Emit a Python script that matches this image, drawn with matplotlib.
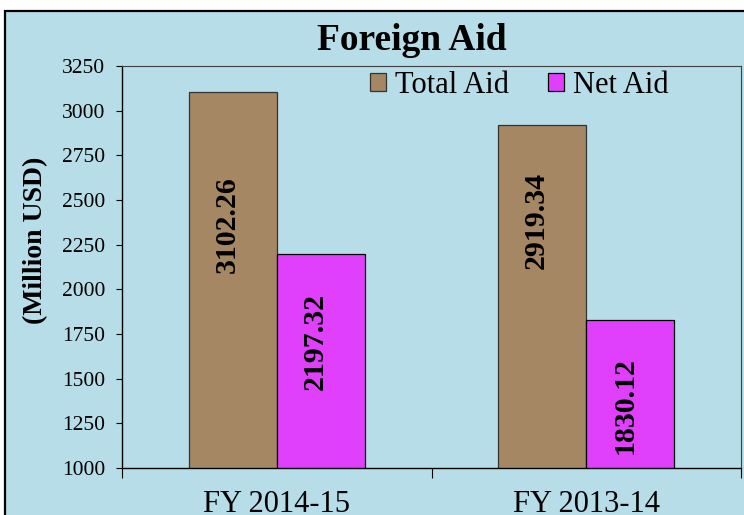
import numpy as np
import matplotlib
matplotlib.use("Agg")
import matplotlib.pyplot as plt
from matplotlib.patches import Rectangle

plt.rcParams['font.family'] = ['Liberation Serif', 'DejaVu Serif']

# data
years = ['FY 2014-15', 'FY 2013-14']
total_aid = [3102.26, 2919.34]
net_aid = [2197.32, 1830.12]
y_ticks = [1000, 1250, 1500, 1750, 2000, 2250, 2500, 2750, 3000, 3250]

# styling
bg = '#B7DDE8'
c_total = '#A58764'
c_net = '#E040FB'
bar_w = 0.284
# how far (points) below each bar's top the rotated label sits
drop_total = [95, 69]
drop_net = [63, 62]

fig = plt.figure(figsize=(7.44, 5.15), dpi=100)
fig.patch.set_facecolor('white')
# chart area box (runs off the right and bottom edges)
fig.patches.append(Rectangle((5 / 744, -0.05), 1.1, 1 - 11 / 515 + 0.05,
                             transform=fig.transFigure, facecolor=bg,
                             edgecolor='black', linewidth=1.6, zorder=-10))

ax = fig.add_axes([122 / 744, 47 / 515, 619 / 744, 402 / 515])
ax.set_facecolor(bg)

x = np.arange(len(years)) + 0.5
b1 = ax.bar(x - bar_w / 2, total_aid, bar_w, bottom=0, color=c_total,
            edgecolor='#333333', linewidth=0.9, label='Total Aid')
b2 = ax.bar(x + bar_w / 2, net_aid, bar_w, bottom=0, color=c_net,
            edgecolor='black', linewidth=0.9, label='Net Aid')

for bars, vals, drops in ((b1, total_aid, drop_total), (b2, net_aid, drop_net)):
    for rect, v, d in zip(bars, vals, drops):
        ax.annotate('%.2f' % v, (rect.get_x() + rect.get_width() / 2, v),
                    xytext=(-4, -d), textcoords='offset points',
                    rotation=90, ha='center', va='center',
                    fontsize=21.5, fontweight='bold')

ax.set_ylim(1000, 3250)
ax.set_xlim(0, 2)
ax.set_yticks(y_ticks)
ax.set_yticklabels([str(t) for t in y_ticks], fontsize=15.5)
ax.tick_params(axis='y', length=4, pad=8, width=0.8)

ax.set_xticks([0, 1, 2])
ax.set_xticklabels([])
ax.set_xticks(x, minor=True)
ax.set_xticklabels(years, minor=True, fontsize=22)
ax.tick_params(axis='x', which='major', length=7, width=0.8, direction='out')
ax.tick_params(axis='x', which='minor', length=0, pad=16)

for s in ['left', 'bottom']:
    ax.spines[s].set_color('black')
    ax.spines[s].set_linewidth(1.0)
for s in ['top', 'right']:
    ax.spines[s].set_color('#404040')
    ax.spines[s].set_linewidth(0.8)

ax.set_ylabel('(Million USD)', fontsize=20, fontweight='bold')
ax.yaxis.set_label_coords(-74 / 619, 0.567)

ax.legend(loc='center', bbox_to_anchor=(0.642, 0.952), ncol=2, frameon=False,
          fontsize=22, handlelength=0.5, handleheight=0.5, handletextpad=0.3,
          columnspacing=1.3, borderpad=0.1)

fig.text(412 / 744, 1 - 50 / 515, 'Foreign Aid', ha='center', va='baseline',
         fontsize=27, fontweight='bold')

plt.savefig('out.png', dpi=100)
